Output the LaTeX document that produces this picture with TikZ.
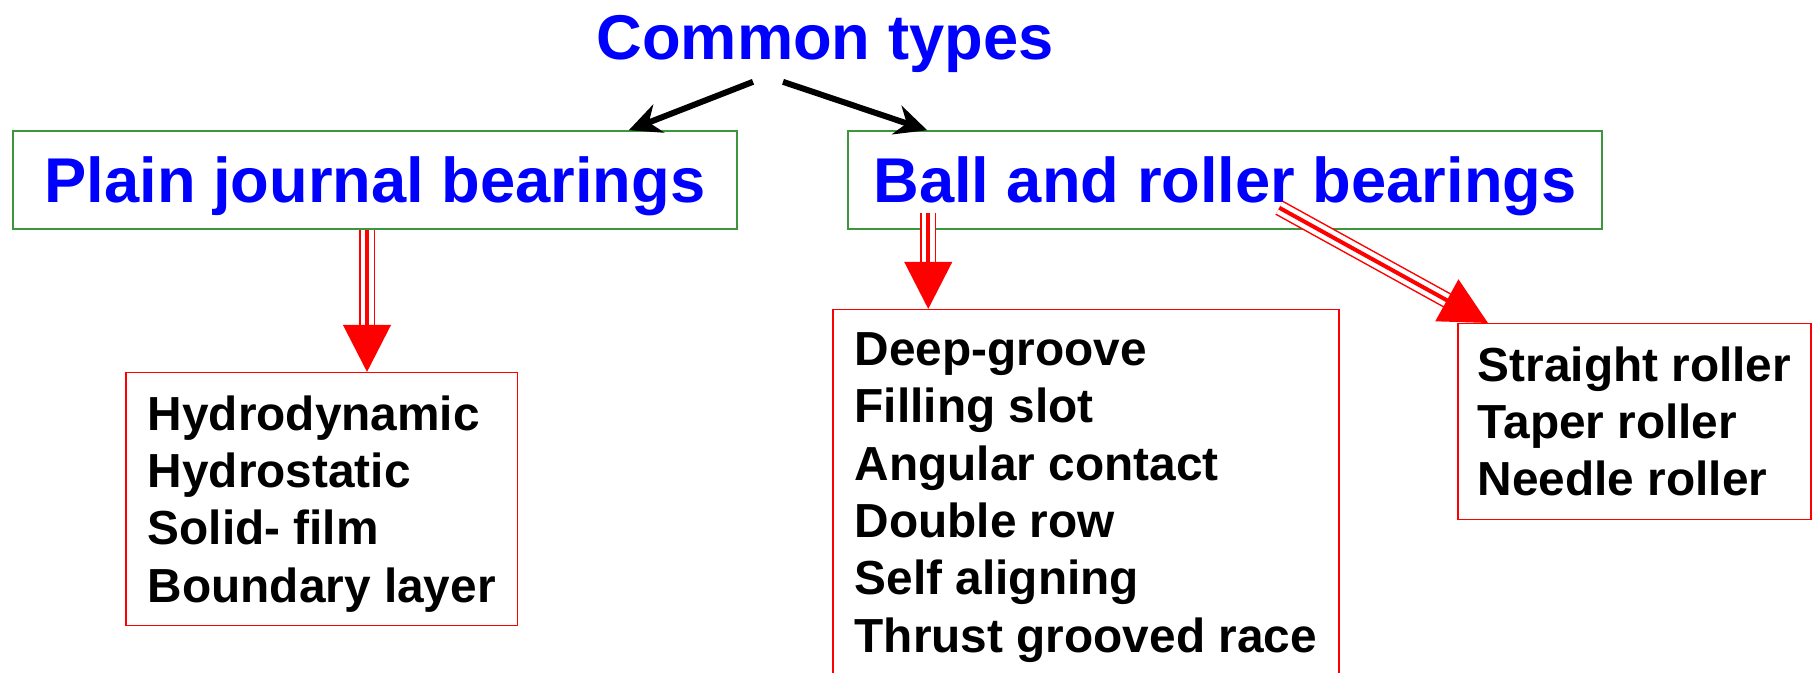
\documentclass[tikz,border=0pt]{standalone}
\usepackage{fontspec}
\setmainfont{Liberation Sans}
\usetikzlibrary{arrows.meta,calc}
\definecolor{boxgreen}{RGB}{60,150,60}

\begin{document}
\begin{tikzpicture}[>={Stealth[length=0.32cm,width=0.30cm]},
		title/.style={font=\fontsize{18}{21.6}\selectfont\bfseries, text=blue, inner sep=0pt},
		headbox/.style={draw=boxgreen, line width=0.015cm, minimum height=0.98cm, text height=0.5cm, text depth=0.04cm, font=\fontsize{18}{21.6}\selectfont\bfseries, text=blue},
		listbox/.style={draw=red, line width=0.015cm, align=left, anchor=north west, inner xsep=0.22cm, inner ysep=0.23cm, font=\fontsize{13.6}{16.3}\selectfont\bfseries},
		redshaft/.style={draw=red, line width=0.015cm, double=white, double distance=0.13cm, shorten >=0.44cm},
		redhead/.style={draw=red, line width=0.04cm, -{Triangle[length=0.47cm,width=0.47cm]}}]
			\useasboundingbox (0,0) rectangle (18.12,-6.73);
			\clip (0,0) rectangle (18.12,-6.73);

			\node[title, anchor=base] (common) at (8.25,-0.60) {Common types};
			\node[headbox, minimum width=7.24cm] (plain) at (3.75,-1.80) {Plain journal bearings};
			\node[headbox, minimum width=7.54cm] (ball) at (12.25,-1.80) {Ball and roller bearings};

			\draw[->, line width=0.06cm] ($(common.south)+(-0.72,-0.08)$) -- ($(plain.north east)+(-1.09,0)$);
			\draw[->, line width=0.06cm] ($(common.south)+(-0.42,-0.08)$) -- ($(ball.north west)+(0.80,0)$);

			% the three lists
			\node[listbox] (plainlist) at (1.25,-3.72) {Hydrodynamic\\Hydrostatic\\Solid- film\\\smash{Boundary layer}};
			\node[listbox] (balllist) at (8.32,-3.09) {Deep-groove\\Filling slot\\Angular contact\\Double row\\Self aligning\\Thrust grooved race};
			\node[listbox, inner xsep=0.2cm] (rollerlist) at (14.57,-3.23) {Straight roller\\Taper roller\\Needle roller};

			% triple red arrows
			\coordinate (p1) at ($(plain.south)+(-0.08,0)$);
			\coordinate (p2) at ($(ball.south west)+(0.81,0.17)$);
			\coordinate (p3) at ($(ball.south west)+(4.32,0.22)$);
			\coordinate (q3) at ($(rollerlist.north west)+(0.31,0)$);
			\draw[redshaft] (p1) -- (p1 |- plainlist.north);
			\draw[redhead] (p1) -- (p1 |- plainlist.north);
			\draw[redshaft] (p2) -- (p2 |- balllist.north);
			\draw[redhead] (p2) -- (p2 |- balllist.north);
			\draw[redshaft] (p3) -- (q3);
			\draw[redhead] (p3) -- (q3);
		\end{tikzpicture}
\end{document}
